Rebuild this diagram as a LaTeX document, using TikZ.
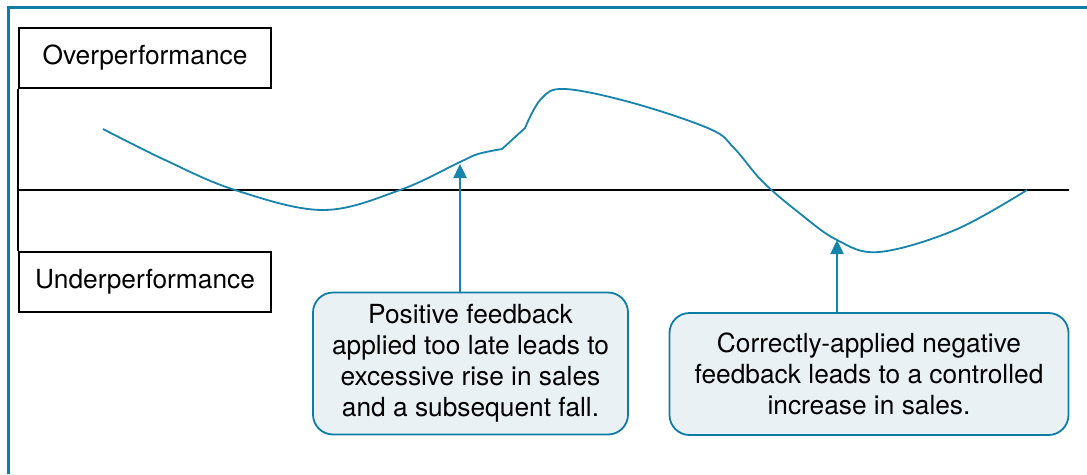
\documentclass[tikz,border=0pt]{standalone}
\usepackage{fontspec}
\setmainfont{TeX Gyre Heros}
\usetikzlibrary{arrows.meta}
\definecolor{frameblue}{HTML}{0E7DA6}
\definecolor{curveblue}{HTML}{1784AD}
\definecolor{callfill}{HTML}{EAF1F5}
\tikzset{
  labelbox/.style={draw=black, line width=1.6pt, fill=white, inner sep=0pt,
    minimum width=252pt, minimum height=60pt,
    font=\fontsize{26.3}{31}\selectfont},
  callout/.style={draw=frameblue, line width=1.8pt, fill=callfill, rounded corners=20pt,
    inner sep=0pt, align=center, font=\fontsize{26.3}{31}\selectfont},
  framestyle/.style={draw=frameblue, line width=3pt},
  axisline/.style={draw=black, line width=1.6pt},
  curve/.style={draw=curveblue, line width=1.8pt, line join=round},
  pointer/.style={draw=curveblue, line width=2.4pt, -{Triangle[width=13pt,length=14pt]}}
}
\begin{document}
\begin{tikzpicture}[x=1pt,y=-1pt]
\useasboundingbox (0,0) rectangle (1087,474);
\fill[white] (0,0) rectangle (1087,474);
% frame
\draw[framestyle] (8,474) -- (8,7) -- (1087,7);
% axis boxes
\node[labelbox] (over) at (145,58) {Overperformance};
\node[labelbox] (under) at (145,282) {Underperformance};
\coordinate (axisL) at (19,190);
\coordinate (axisR) at (1069,190);
\draw[axisline] (over.south west) -- (under.north west);
\draw[axisline] (axisL) -- (axisR);
% curve
\draw[curve] plot[smooth, tension=0.6] coordinates {(103,129) (165,160) (235,190) (323,210) (400,190) (460,162) (478,154) (502,149)}
  -- (525,128)
  plot[smooth, tension=0.6] coordinates {(525,128) (541,99) (565,89) (633,103) (710,129) (734,148) (762,181) (798,212) (837,240) (879,252) (955,230) (1027,190)};
% callouts
\node[callout, minimum width=315pt, minimum height=142pt] (pos) at (470.5,363.5)
  {Positive feedback\\applied too late leads to\\excessive rise in sales\\and a subsequent fall.};
\node[callout, minimum width=399pt, minimum height=122pt] (neg) at (869,374)
  {Correctly-applied negative\\feedback leads to a controlled\\increase in sales.};
\coordinate (tipA) at (460,164);
\coordinate (tipB) at (837,240);
\draw[pointer] (pos.north -| tipA) -- (tipA);
\draw[pointer] (neg.north -| tipB) -- (tipB);
\end{tikzpicture}
\end{document}
